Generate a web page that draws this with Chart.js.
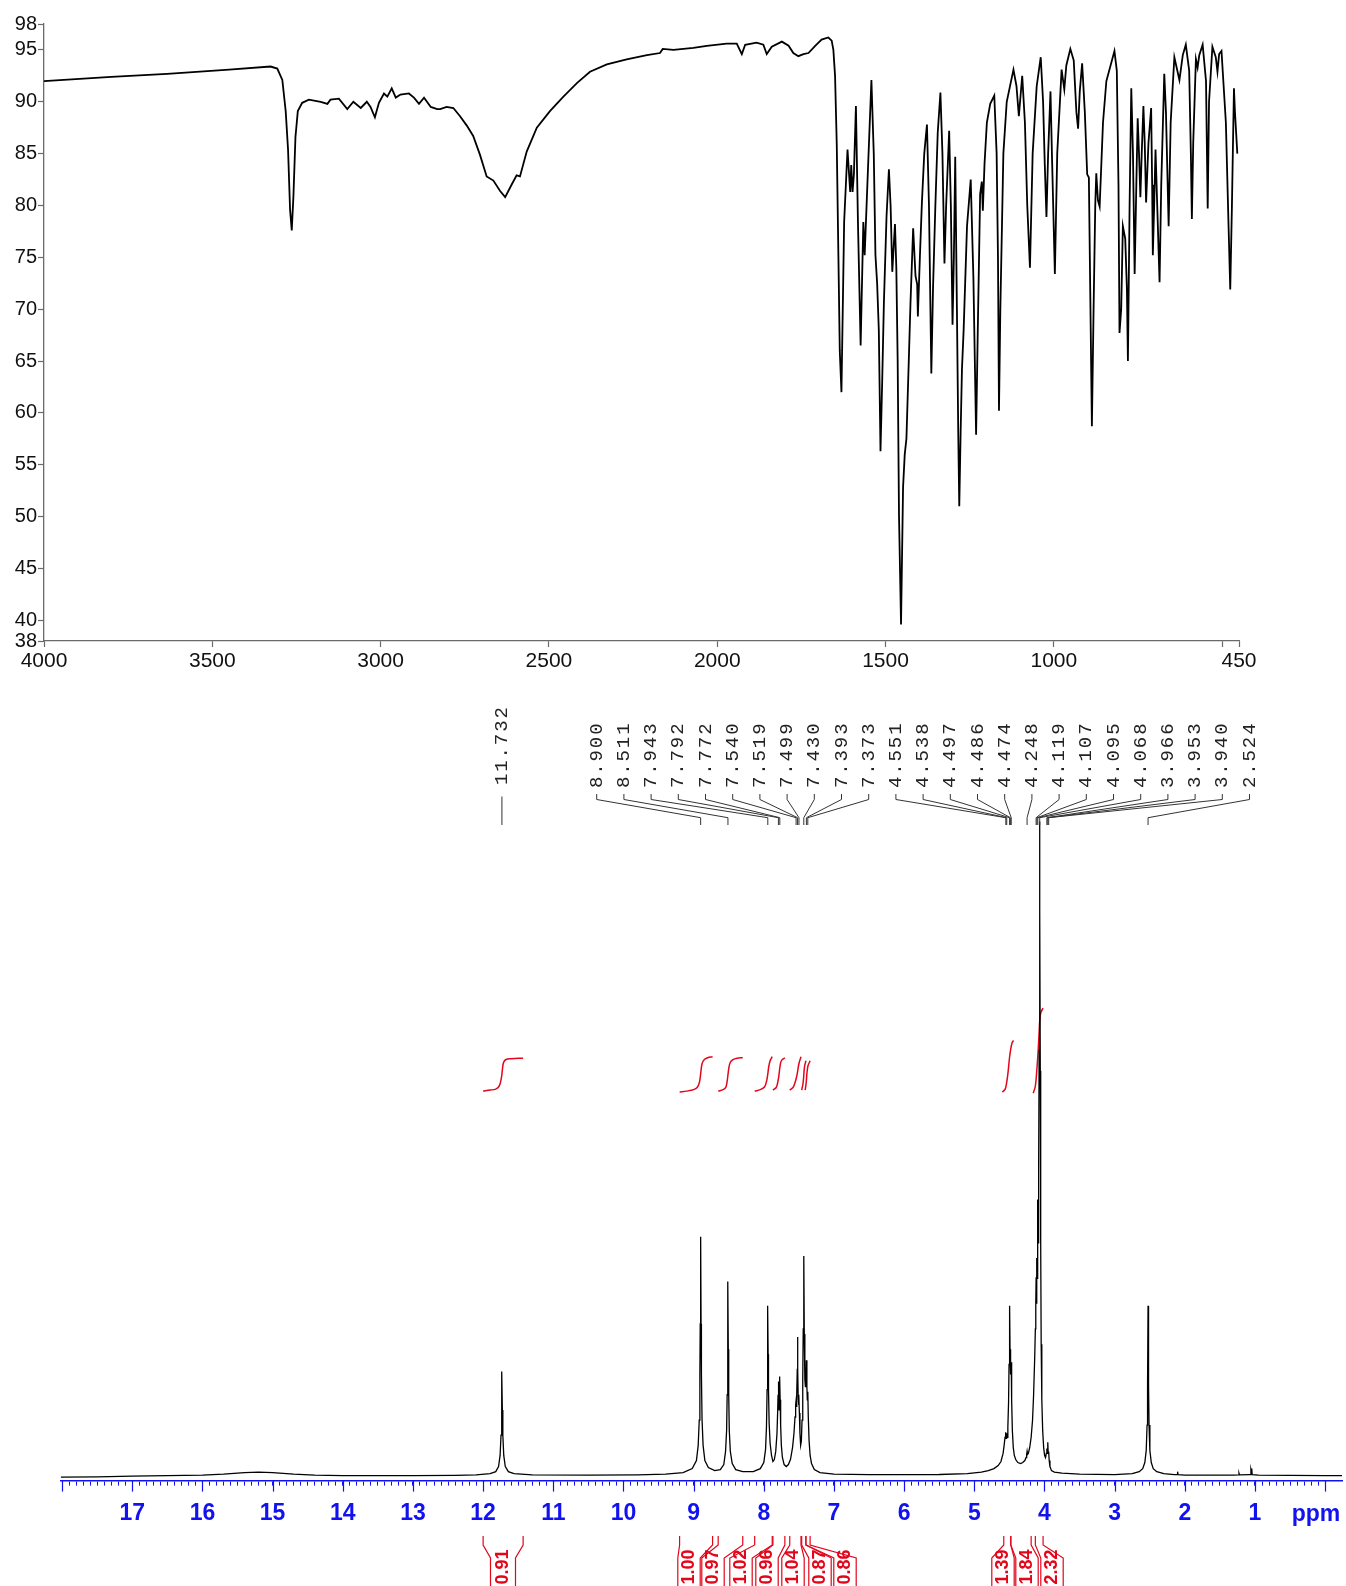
<!DOCTYPE html>
<html><head><meta charset="utf-8">
<script src="https://cdn.jsdelivr.net/npm/chart.js@4.4.1/dist/chart.umd.min.js"></script>
<style>
html,body{margin:0;padding:0;background:#fff;}
body{width:1346px;height:1586px;position:relative;overflow:hidden;}
#ir{position:absolute;left:0;top:0;width:1346px;height:680px;}
#nmr{position:absolute;left:0;top:680px;width:1346px;height:906px;}
</style></head><body>
<canvas id="ir" width="1346" height="680"></canvas>
<canvas id="nmr" width="1346" height="906"></canvas>
<script>
// ---------------- IR data (wavenumber cm-1, %T) ----------------
const irWn = [
 4000,3800,3634,3450,3327,3307,3292,3282,3275,3269,
 3264,3259,3253,3246,3233,3213,3178,3158,3149,3124,
 3099,3081,3059,3041,3030,3017,3005,2990,2980,2967,
 2955,2941,2916,2901,2886,2871,2851,2832,2823,2804,
 2784,2764,2744,2725,2705,2685,2665,2645,2630,2611,
 2596,2586,2566,2536,2497,2457,2417,2378,2328,2269,
 2209,2170,2162,2130,2071,2031,1972,1942,1927,1917,
 1883,1863,1853,1838,1808,1788,1774,1759,1744,1729,
 1709,1690,1670,1660,1655,1650,1645,1640,1636,1631,
 1623,1613,1605,1602,1598,1594,1588,1582,1574,1566,
 1562,1554,1542,1535,1530,1525,1520,1515,1510,1505,
 1497,1490,1485,1480,1475,1472,1468,1464,1460,1454,
 1448,1443,1438,1431,1426,1418,1411,1406,1404,1398,
 1392,1385,1377,1371,1364,1359,1352,1345,1337,1331,
 1325,1320,1311,1306,1301,1297,1293,1288,1284,1281,
 1277,1273,1268,1258,1247,1239,1231,1226,1219,1214,
 1211,1206,1199,1189,1177,1170,1166,1163,1159,1150,
 1140,1120,1111,1104,1094,1086,1079,1071,1063,1051,
 1039,1032,1027,1022,1017,1010,1005,997,990,977,
 969,963,951,941,933,928,923,916,908,901,
 896,892,887,882,877,874,869,864,854,844,
 820,813,808,805,800,795,788,783,780,775,
 770,765,760,755,751,747,743,739,734,730,
 726,719,711,708,706,702,698,692,686,681,
 672,667,659,653,642,627,617,608,598,593,
 590,586,578,573,568,558,548,543,539,529,
 519,514,509,502,489,481,476,471,465,462,
 455
];
const irT = [
 92.0,92.4,92.7,93.1,93.4,93.2,92.1,89.1,85.4,79.6,
 77.6,80.9,86.6,89.1,89.9,90.2,90.0,89.8,90.2,90.3,
 89.3,90.0,89.4,90.0,89.5,88.5,89.9,90.8,90.5,91.3,
 90.4,90.7,90.8,90.4,89.8,90.4,89.5,89.3,89.3,89.5,
 89.4,88.6,87.7,86.7,84.9,82.8,82.4,81.4,80.8,82.0,
 82.9,82.8,85.2,87.5,89.1,90.5,91.8,92.9,93.6,94.1,
 94.5,94.7,95.1,95.0,95.2,95.4,95.6,95.6,94.6,95.5,
 95.7,95.5,94.6,95.3,95.8,95.4,94.7,94.4,94.6,94.7,
 95.4,96.0,96.2,95.9,95.0,92.5,86.0,75.0,66.0,62.0,
 78.4,85.4,81.3,83.9,81.3,83.0,89.6,78.4,66.5,78.4,
 75.2,82.0,92.1,85.0,75.2,72.5,68.0,56.3,63.0,70.5,
 79.0,83.5,80.0,73.6,76.5,78.2,74.0,65.0,50.0,39.6,
 52.8,56.0,57.5,65.0,70.5,77.8,73.2,72.4,69.3,75.0,
 80.3,85.0,87.8,80.0,63.8,72.0,80.0,87.0,90.9,85.0,
 74.4,80.0,87.2,80.0,68.5,75.0,84.7,70.0,58.0,51.0,
 58.0,64.2,68.0,78.0,82.5,73.0,57.9,68.0,81.1,82.3,
 79.5,84.0,88.0,89.8,90.6,85.0,75.0,60.2,70.0,85.0,
 90.0,93.1,91.5,88.6,92.5,88.0,80.0,74.0,85.0,91.5,
 94.3,90.0,84.0,78.9,85.0,91.0,84.0,73.4,85.0,93.1,
 91.2,93.5,95.1,94.0,89.0,87.4,91.0,93.7,89.0,83.0,
 82.7,72.0,58.7,70.0,80.0,83.1,80.5,79.9,88.0,92.0,
 94.9,93.0,82.0,67.7,70.0,78.0,76.8,72.0,65.0,80.0,
 91.3,85.0,73.4,82.0,88.4,85.0,80.8,85.0,89.6,86.0,
 80.3,86.0,89.4,82.0,75.2,80.0,85.4,79.0,72.6,82.0,
 92.7,89.0,78.0,88.0,94.3,92.1,94.5,95.5,93.0,85.0,
 78.7,86.0,94.1,93.3,94.5,95.5,92.0,79.7,90.0,95.3,
 94.3,92.9,94.6,94.9,88.0,78.0,71.9,80.0,91.3,89.0,
 85.0
];
// y ticks as drawn on the reference axis (its top tick, labelled 98, sits at the axis end)
const irTicksY = [38,40,45,50,55,60,65,70,75,80,85,90,95,97.5];
const irTickLabelsY = ['38','40','45','50','55','60','65','70','75','80','85','90','95','98'];
const irTicksX = [4000,3500,3000,2500,2000,1500,1000,500,450];
const irTickLabelsX = ['4000','3500','3000','2500','2000','1500','1000','','450'];

// ---------------- 1H NMR data (ppm, intensity) ----------------
const nmrPpm = [
 18.02,17.5,17.0,16.5,16.0,15.7,15.4,15.2,15.0,14.7,
 14.4,14.0,13.0,12.4,12.1,11.9,11.82,11.78,11.758,11.745,
 11.738,11.732,11.726,11.719,11.706,11.684,11.64,11.56,11.3,10.5,
 9.8,9.4,9.15,9.02,8.96,8.935,8.92,8.911,8.906,8.900,
 8.894,8.889,8.88,8.865,8.84,8.79,8.7,8.62,8.57,8.545,
 8.53,8.522,8.516,8.511,8.506,8.5,8.492,8.477,8.45,8.4,
 8.3,8.15,8.05,8.0,7.975,7.962,7.953,7.948,7.943,7.938,
 7.933,7.924,7.91,7.89,7.87,7.85,7.83,7.812,7.802,7.797,
 7.792,7.787,7.782,7.777,7.772,7.767,7.76,7.75,7.735,7.71,
 7.68,7.65,7.62,7.59,7.57,7.555,7.546,7.54,7.534,7.528,
 7.523,7.519,7.515,7.51,7.505,7.499,7.493,7.485,7.475,7.465,
 7.455,7.445,7.438,7.43,7.423,7.415,7.407,7.4,7.393,7.386,
 7.38,7.373,7.366,7.355,7.34,7.32,7.28,7.2,7.0,6.5,
 6.0,5.5,5.1,4.9,4.8,4.72,4.66,4.62,4.59,4.575,
 4.562,4.555,4.551,4.546,4.542,4.538,4.532,4.522,4.512,4.505,
 4.497,4.491,4.486,4.48,4.474,4.468,4.458,4.445,4.43,4.41,
 4.38,4.34,4.31,4.28,4.262,4.254,4.248,4.242,4.23,4.21,
 4.19,4.17,4.155,4.14,4.13,4.124,4.119,4.114,4.11,4.107,
 4.103,4.099,4.095,4.091,4.086,4.081,4.076,4.072,4.068,4.064,
 4.06,4.054,4.047,4.038,4.026,4.012,3.998,3.985,3.974,3.966,
 3.96,3.953,3.947,3.94,3.933,3.922,3.9,3.86,3.75,3.5,
 3.0,2.75,2.65,2.6,2.57,2.55,2.538,2.531,2.524,2.517,
 2.51,2.498,2.478,2.45,2.4,2.3,2.15,2.11,2.103,2.096,
 2.0,1.5,1.3,1.235,1.228,1.221,1.07,1.058,1.052,1.046,
 1.04,0.95,0.5,0.0,-0.24
];
const nmrInt = [
 -1.5,-1.2,-0.5,0,0.5,1.5,3,3.5,3,1.5,
 0.5,0,0,0.3,0.8,2,4,9,20,40,
 65,103,65,40,20,9,4,2,0.8,0.5,
 0.8,1.5,3,7,15,30,55,100,150,236,
 150,100,55,30,15,8,5,6,11,24,
 45,80,125,192,125,80,45,24,12,6,
 4,4,7,13,26,48,85,120,168,120,
 85,52,32,20,14,16,24,42,65,80,
 93,75,65,78,98,75,50,30,18,11,
 9,11,16,28,42,58,70,74,68,80,
 105,137,105,78,70,80,62,42,30,34,
 55,95,145,217,140,95,88,95,114,88,
 75,83,58,35,20,12,6,3,1.5,1,
 1,1.2,2,3.5,5,7,10,14,22,30,
 38,42,43,37,38,42,38,48,72,110,
 168,125,118,100,112,75,45,28,20,16,
 13,12,13,15,18,21,24,21,22,28,
 38,55,80,115,145,170,196,170,190,215,
 195,230,273,230,240,300,420,560,680,560,
 400,230,130,75,45,28,20,18,22,27,
 22,33,22,24,15,9,5,3.5,2.5,1.5,
 1,2,4,7,13,25,50,90,168,90,
 50,25,13,7,4,2,1,1,4,1,
 0.6,0.5,0.5,0.8,2.5,0.8,1,6,4,7,
 1,0.6,0.3,0,0
];
// peak picking labels
const peakLabels = ['11.732','8.900','8.511','7.943','7.792','7.772','7.540','7.519','7.499','7.430','7.393','7.373',
 '4.551','4.538','4.497','4.486','4.474','4.248','4.119','4.107','4.095','4.068','3.966','3.953','3.940','2.524'];
const peakPpm = peakLabels.map(Number);
// integrals: ranges (ppm) and values
const intFrom = [12.00, 9.20, 8.65, 8.13, 7.87, 7.63, 7.46, 7.40, 4.58, 4.48, 4.13];
const intTo   = [11.43, 8.73, 8.30, 7.88, 7.70, 7.47, 7.40, 7.34, 4.48, 4.19, 4.02];
const intValues = ['0.91','1.00','0.97','1.02','0.96','1.04','0.87','0.86','1.39','1.84','2.32'];
// integral curves (ppm, curve level)
const intCurvePpm = [
 [12.0,11.9,11.82,11.78,11.755,11.74,11.732,11.724,11.71,11.68,11.6,11.43],
 [9.2,9.1,9.0,8.95,8.92,8.905,8.9,8.895,8.88,8.85,8.8,8.73],
 [8.65,8.58,8.54,8.522,8.511,8.5,8.48,8.44,8.38,8.3],
 [8.13,8.05,7.99,7.96,7.943,7.93,7.91,7.88],
 [7.87,7.82,7.795,7.782,7.77,7.75,7.70],
 [7.63,7.58,7.54,7.519,7.5,7.47],
 [7.46,7.44,7.43,7.42,7.40],
 [7.41,7.395,7.385,7.37,7.34],
 [4.60,4.56,4.54,4.52,4.50,4.48,4.46,4.44],
 [4.16,4.13,4.11,4.09,4.075,4.065,4.05,4.02]
];
const intCurveVal = [
 [380,381,382,384,388,393,397,402,408,411,412,412.5],
 [379,380,381.5,383.5,388,394,397,400,407,411,413,414],
 [380,381.5,384,390,396,402,408,411,412.5,413],
 [380,381.5,384,390,397,404,410,414],
 [381,384,391,397,404,410,413],
 [381,384,392,399,407,414],
 [381,388,396,404,410],
 [381,389,398,405,410],
 [379,382,388,398,412,422,428,430],
 [378,385,400,420,440,452,458,462]
];

// ---------------- styling / layout constants ----------------
const BLUE = '#1212f0', RED = '#e3061b', INK = '#000';
const SANS = '"Liberation Sans", Arial, Helvetica, sans-serif';

// ---------------- IR chart ----------------
new Chart(document.getElementById('ir'), {
  type: 'line',
  data: { datasets: [{
    data: irWn.map((w, i) => ({ x: w, y: irT[i] })),
    borderColor: INK, borderWidth: 1.8, pointRadius: 0, tension: 0, fill: false
  }]},
  options: {
    responsive: false, animation: false, devicePixelRatio: 1,
    layout: { padding: { left: 0, right: 107, top: 24, bottom: 0 } },
    plugins: { legend: { display: false }, tooltip: { enabled: false } },
    scales: {
      x: {
        type: 'linear', reverse: true, min: 450, max: 4000,
        afterBuildTicks: s => { s.ticks = irTicksX.map(v => ({ value: v })); },
        afterFit: s => { s.height = 39; },
        ticks: { autoSkip: false, maxRotation: 0, padding: 2, color: '#111',
          font: { family: SANS, size: 21 },
          callback: v => { const i = irTicksX.indexOf(v); return i >= 0 ? irTickLabelsX[i] : ''; } },
        grid: { drawOnChartArea: false, drawTicks: true, tickLength: 6, color: '#6a6a6a', tickWidth: 1.2 },
        border: { display: true, color: '#6a6a6a', width: 1.3 }
      },
      y: {
        min: 38, max: 97.5,
        afterBuildTicks: s => { s.ticks = irTicksY.map(v => ({ value: v })); },
        afterFit: s => { s.width = 44; },
        ticks: { autoSkip: false, padding: 1, color: '#111', font: { family: SANS, size: 20 },
          callback: v => { const i = irTicksY.indexOf(v); return i >= 0 ? irTickLabelsY[i] : ''; } },
        grid: { drawOnChartArea: false, drawTicks: true, tickLength: 6, color: '#6a6a6a', tickWidth: 1.2 },
        border: { display: true, color: '#6a6a6a', width: 1.3 }
      }
    }
  }
});

// ---------------- NMR chart ----------------
const nmrDecor = {
  id: 'nmrDecor',
  afterDraw(chart) {
    const ctx = chart.ctx, xs = chart.scales.x, ca = chart.chartArea;
    ctx.save();
    // longer ticks at whole ppm
    ctx.strokeStyle = BLUE; ctx.lineWidth = 1.2;
    for (let v = 0; v <= 18; v++) {
      const x = Math.round(xs.getPixelForValue(v)) + 0.5;
      if (x < ca.left - 1 || x > ca.right + 1) continue;
      ctx.beginPath(); ctx.moveTo(x, ca.bottom); ctx.lineTo(x, ca.bottom + 11); ctx.stroke();
    }
    // ppm unit
    ctx.fillStyle = BLUE; ctx.font = 'bold 23px ' + SANS;
    ctx.textAlign = 'center'; ctx.textBaseline = 'alphabetic';
    ctx.fillText('ppm', 1316, 841);

    // peak labels + leads
    const X0 = 596.7, DX = 27.2, CH = 13.3;
    ctx.font = '19px "Liberation Mono", "DejaVu Sans Mono", monospace';
    ctx.fillStyle = '#222'; ctx.strokeStyle = '#333'; ctx.lineWidth = 1;
    peakLabels.forEach((lab, i) => {
      const px = xs.getPixelForValue(peakPpm[i]);
      const lx = i === 0 ? px : X0 + (i - 1) * DX;
      const bottom = i === 0 ? 106 : 109;
      ctx.save();
      ctx.translate(lx, bottom); ctx.rotate(-Math.PI / 2);
      ctx.textAlign = 'center'; ctx.textBaseline = 'middle';
      for (let k = 0; k < lab.length; k++) ctx.fillText(lab[k], (k + 0.5) * CH, 0);
      ctx.restore();
      ctx.beginPath();
      if (i === 0) { ctx.moveTo(lx, 116.5); ctx.lineTo(lx, 145); }
      else { ctx.moveTo(lx, 114); ctx.lineTo(lx, 119.5); ctx.lineTo(px, 137.7); ctx.lineTo(px, 145); }
      ctx.stroke();
    });

    // integral brackets + values
    const LX = [503, 689, 713, 741, 767, 793, 820, 845, 1003, 1027, 1052];
    ctx.strokeStyle = RED; ctx.lineWidth = 1.2;
    intValues.forEach((lab, i) => {
      const x1 = xs.getPixelForValue(intFrom[i]), x2 = xs.getPixelForValue(intTo[i]);
      const cx = LX[i], hw = i === 0 ? 12.5 : 11.2;
      ctx.beginPath();
      ctx.moveTo(x1, 856); ctx.lineTo(x1, 865); ctx.lineTo(cx - hw, 878); ctx.lineTo(cx - hw, 906);
      ctx.moveTo(x2, 856); ctx.lineTo(x2, 865); ctx.lineTo(cx + hw, 878); ctx.lineTo(cx + hw, 906);
      ctx.stroke();
      ctx.save();
      ctx.translate(cx, 887); ctx.rotate(-Math.PI / 2);
      ctx.textAlign = 'center'; ctx.textBaseline = 'middle';
      ctx.fillStyle = RED; ctx.font = 'bold 18px ' + SANS;
      ctx.fillText(lab, 0, 0);
      ctx.restore();
    });
    ctx.restore();
  }
};

const nmrSets = [{
  data: nmrPpm.map((p, i) => ({ x: p, y: nmrInt[i] })),
  borderColor: INK, borderWidth: 1.3, pointRadius: 0, tension: 0, fill: false
}];
intCurvePpm.forEach((arr, k) => {
  nmrSets.push({
    data: arr.map((p, i) => ({ x: p, y: intCurveVal[k][i] })),
    borderColor: RED, borderWidth: 1.5, pointRadius: 0, tension: 0.35, fill: false
  });
});

new Chart(document.getElementById('nmr'), {
  type: 'line',
  data: { datasets: nmrSets },
  plugins: [nmrDecor],
  options: {
    responsive: false, animation: false, devicePixelRatio: 1,
    layout: { padding: { left: 60.7, right: 4, top: 141.6, bottom: 0 } },
    plugins: { legend: { display: false }, tooltip: { enabled: false } },
    scales: {
      x: {
        type: 'linear', reverse: true, min: -0.24, max: 18.02,
        afterBuildTicks: s => { const t = []; for (let k = 0; k <= 180; k++) t.push({ value: k / 10 }); s.ticks = t; },
        afterFit: s => { s.height = 105.4; },
        ticks: { autoSkip: false, maxRotation: 0, minRotation: 0, padding: 14, color: BLUE,
          font: { family: SANS, size: 23, weight: 'bold' },
          callback: v => { const r = Math.round(v); return (Math.abs(v - r) < 1e-6 && r >= 1 && r <= 17) ? String(r) : ''; } },
        grid: { drawOnChartArea: false, drawTicks: true, tickLength: 5, color: BLUE, tickWidth: 1 },
        border: { display: true, color: BLUE, width: 1.6 }
      },
      y: { display: false, min: -4.84, max: 646.3 }
    }
  }
});
</script>
</body></html>
